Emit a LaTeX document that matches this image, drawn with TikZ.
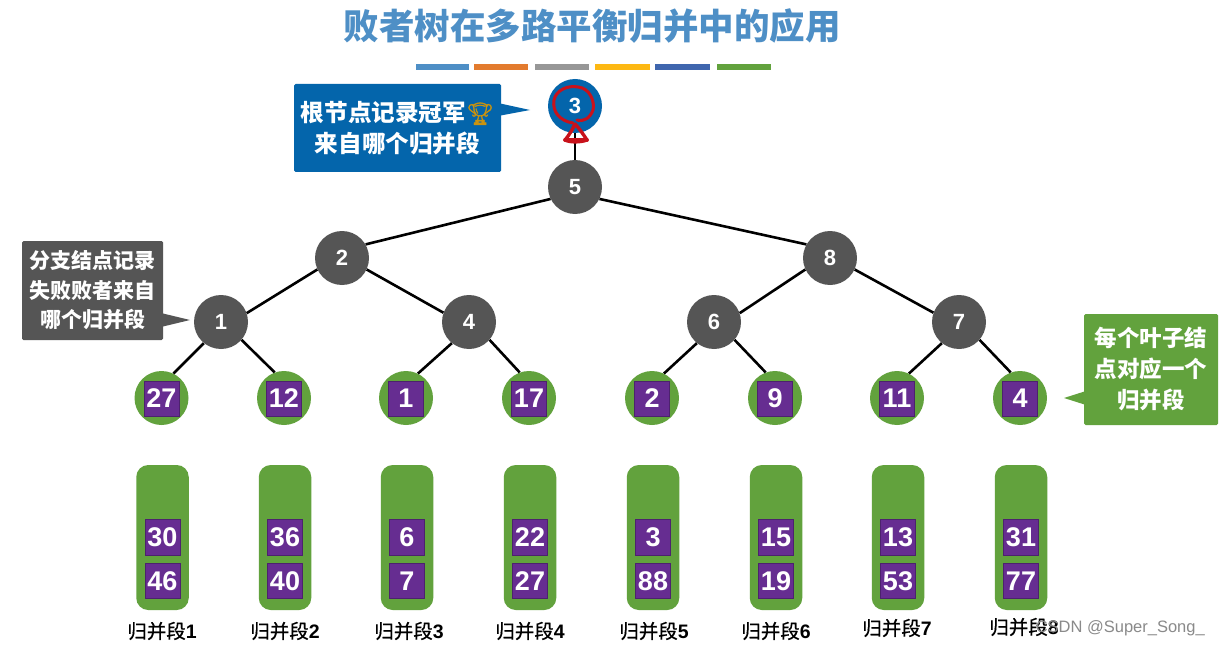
\documentclass[tikz,border=0pt]{standalone}
\usepackage{fontspec}
\setmainfont{Noto Sans CJK SC}
\newfontfamily\segf[FakeBold=0.5]{Noto Sans CJK SC}
\newfontfamily\digf{Liberation Sans}
\newfontfamily\emo[FakeBold=1.5]{Noto Emoji}
\definecolor{titleblue}{HTML}{4E8FC6}
\definecolor{barorange}{HTML}{E37B2E}
\definecolor{bargray}{HTML}{979797}
\definecolor{baryellow}{HTML}{FDB813}
\definecolor{barblue}{HTML}{3F66AE}
\definecolor{leafgreen}{HTML}{62A23D}
\definecolor{rootblue}{HTML}{0465AB}
\definecolor{darkgray}{HTML}{555555}
\definecolor{cellpurple}{HTML}{662D91}
\definecolor{inkred}{HTML}{C8121B}
\definecolor{markgray}{HTML}{8A8A8A}
\tikzset{
  x=1pt,y=-1pt,
  fs/.style={font=\fontsize{#1}{#1}\selectfont},
  colorbar/.style={fill=#1,draw=none},
  treenode/.style={circle,fill=darkgray,draw=none,minimum size=54pt,inner sep=0pt,text=white,font=\fontsize{22}{22}\digf\bfseries},
  rootnode/.style={treenode,fill=rootblue},
  leafnode/.style={circle,fill=leafgreen,draw=none,minimum size=54pt,inner sep=0pt},
  cell/.style={rectangle,fill=cellpurple,draw=black!25!cellpurple,line width=.4pt,minimum size=35pt,inner sep=0pt,text=white,font=\fontsize{27}{27}\digf\bfseries},
  segbox/.style={rectangle,rounded corners=12pt,fill=leafgreen,draw=none,minimum width=52.5pt,minimum height=145pt,inner sep=0pt},
  seglabel/.style={text=black,inner sep=0pt,font=\fontsize{19.5}{19.5}\segf},
  edge/.style={line width=2.6pt,black},
  callout/.style={rectangle,rounded corners=1.5pt,draw=none,inner sep=0pt,text=white,align=center,font=\fontsize{#1}{28}\selectfont\bfseries},
  ink/.style={draw=inkred,line width=3pt,line cap=round,line join=round},
}
\newcommand{\dg}[1]{{\digf\bfseries #1}}
\begin{document}
\begin{tikzpicture}
\useasboundingbox (0,0) rectangle (1220,647);
\fill[white] (0,0) rectangle (1220,647);

\node[text=titleblue,fs=35.5,inner sep=0pt] (title) at (592,26) {\bfseries 败者树在多路平衡归并中的应用};

\fill[colorbar=titleblue] (416,64) rectangle (469,70.5);
\fill[colorbar=barorange] (474,64) rectangle (528,70.5);
\fill[colorbar=bargray] (535,64) rectangle (589,70.5);
\fill[colorbar=baryellow] (595,64) rectangle (650,70.5);
\fill[colorbar=barblue] (655,64) rectangle (710,70.5);
\fill[colorbar=leafgreen] (717,64) rectangle (771,70.5);

% tree
\node[rootnode] (r) at (575,106) {3};
\node[treenode] (n5) at (575,187) {5};
\node[treenode] (n2) at (342,258) {2};
\node[treenode] (n8) at (830,258) {8};
\node[treenode] (n1) at (221,322) {1};
\node[treenode] (n4) at (469,322) {4};
\node[treenode] (n6) at (714,322) {6};
\node[treenode] (n7) at (959,322) {7};

% leaves and segments
\foreach \nm/\xx/\lv/\a/\b/\lx/\ly/\ii in {
  a/161.5/27/30/46/162/631/1,
  b/284/12/36/40/285/631/2,
  c/406/1/6/7/409/631/3,
  d/529/17/22/27/530/631/4,
  e/652/2/3/88/654/631/5,
  f/775/9/15/19/776/631/6,
  g/897/11/13/53/897/628/7,
  h/1020/4/31/77/1024/627/8}{
  \node[leafnode] (l\nm) at (\xx,398) {};
  \node[cell] (c\nm) at (\xx,398.5) {\lv};
  \node[segbox] (s\nm) at (\xx+1,537.5) {};
  \node[cell,minimum height=36pt] (u\nm) at (\xx+1,537) {\a};
  \node[cell] (v\nm) at (\xx+1,581) {\b};
  \node[seglabel] (t\nm) at (\lx,\ly) {归并段\dg{\ii}};
}

\draw[edge] (r) -- (n5);
\draw[edge] (n5.206) -- (n2.30);
\draw[edge] (n5.-26) -- (n8.150);
\draw[edge] (n2.205) -- (n1.19);
\draw[edge] (n2.-25) -- (n4.160);
\draw[edge] (n8.205) -- (n6.19);
\draw[edge] (n8.-25) -- (n7.160);
\draw[edge] (n1.231) -- (la.64);
\draw[edge] (n1.-41) -- (lb.110);
\draw[edge] (n4.231) -- (lc.64);
\draw[edge] (n4.-41) -- (ld.110);
\draw[edge] (n6.231) -- (le.64);
\draw[edge] (n6.-41) -- (lf.110);
\draw[edge] (n7.231) -- (lg.64);
\draw[edge] (n7.-41) -- (lh.110);

% callouts
\fill[rootblue] (498,103) -- (530,110) -- (498,116) -- cycle;
\node[callout=23.6,fill=rootblue,minimum width=207pt,minimum height=88pt] (cb) at (397.5,128) {根节点记录冠军{\fontsize{22}{22}\color{baryellow!80!black}\emo 🏆}\\[3pt]来自哪个归并段};

\fill[darkgray] (161,313) -- (190,320) -- (161,327) -- cycle;
\node[callout=21,fill=darkgray,minimum width=141pt,minimum height=99pt] (cg) at (92.5,290.5) {分支结点记录\\[1.5pt]失败败者来自\\[1.5pt]哪个归并段};

\fill[leafgreen] (1086,391) -- (1064,398) -- (1086,405) -- cycle;
\node[callout=22.5,fill=leafgreen,minimum width=134pt,minimum height=111pt] (cr) at (1151,369.5) {每个叶子结\\[3pt]点对应一个\\[3pt]归并段};

% red scribble over the root
\draw[ink] (573,123) .. controls (560,121) and (552,112) .. (554,100)
  .. controls (556,90) and (568,85) .. (578,87)
  .. controls (590,88) and (595,102) .. (593,110)
  .. controls (590,118) and (584,122) .. (577,120);
\draw[ink,line width=3.4pt] (575,124) .. controls (572,130) and (570,134) .. (565,140)
  .. controls (570,142.5) and (580,142.5) .. (587,140)
  .. controls (583,134) and (579,128) .. (575,124);
\draw[ink,line width=3.6pt] (565,140) -- (587,140);

\node[text=markgray,inner sep=0pt,font=\fontsize{16.5}{16.5}\digf,anchor=east] (wm) at (1205,628) {CSDN @Super\_Song\_};
\end{tikzpicture}
\end{document}
